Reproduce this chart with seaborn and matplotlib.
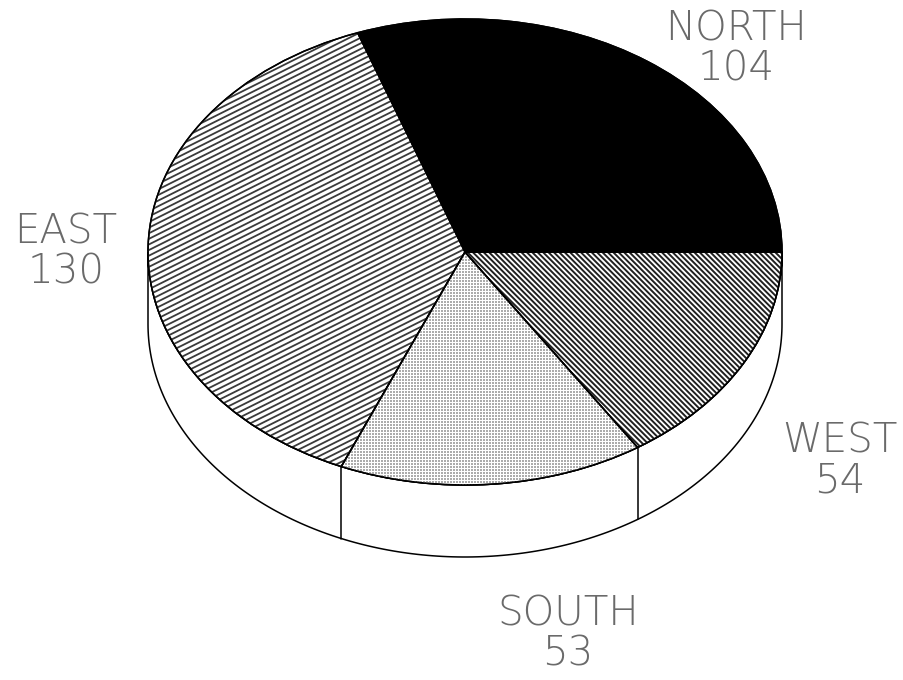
import numpy as np
import matplotlib
matplotlib.use('Agg')
import matplotlib.pyplot as plt
from matplotlib.patches import Wedge
from matplotlib.collections import LineCollection
import seaborn as sns

# data
regions = ['NORTH', 'EAST', 'SOUTH', 'WEST']
sales = [104, 130, 53, 54]

sns.set_style('white')
plt.rcParams['font.family'] = ['DejaVu Sans']

# geometry of the tilted pie, in pixels of the 904x680 picture
W, H = 904, 680
cx, cy = 465, 252      # centre of the top face
rx, ry = 317, 233      # radii of the top ellipse
depth = 72             # thickness of the side

fig = plt.figure(figsize=(W / 100, H / 100), dpi=100)
ax = fig.add_axes([0, 0, 1, 1])

D = depth / ry
# side band (front half of the cylinder)
th = np.linspace(np.pi, 2 * np.pi, 200)
side_x = np.concatenate([np.cos(th), np.cos(th[::-1])])
side_y = np.concatenate([np.sin(th), np.sin(th[::-1]) - D])
ax.fill(side_x, side_y, facecolor='white', edgecolor='black', lw=1.1, zorder=1)

wedges, _ = ax.pie(sales, startangle=0, counterclock=True, radius=1,
                   colors=['black', 'white', 'white', 'white'],
                   wedgeprops=dict(edgecolor='black', linewidth=1.1))
for w in wedges:
    w.set_zorder(2)

# vertical edges on the side where slices meet
bounds = np.cumsum(sales) / sum(sales) * 360
for a in bounds:
    if 180 < a < 360:
        t = np.radians(a)
        ax.plot([np.cos(t), np.cos(t)], [np.sin(t), np.sin(t) - D],
                color='black', lw=1.1, zorder=1.5)


def hatch(wedge, slope_px, step_px, color, lw):
    # parallel lines given by their slope and vertical step in pixels
    m = slope_px * rx / ry
    step = step_px / ry
    cs = np.arange(-4, 4, step)
    segs = [[(-1.2, m * -1.2 + c), (1.2, m * 1.2 + c)] for c in cs]
    lc = LineCollection(segs, colors=color, linewidths=lw, zorder=3)
    ax.add_collection(lc)
    lc.set_clip_path(wedge)


hatch(wedges[1], 0.5, 5.6, '#3a3a3a', 1.3)
hatch(wedges[3], -1.0, 5.4, '#202020', 1.4)

# stipple for SOUTH
gx = np.arange(-1, 1, 3 / rx)
gy = np.arange(-1, 1, 3 / ry)
px, py = np.meshgrid(gx, gy)
dots = ax.scatter(px.ravel(), py.ravel(), s=0.6, marker='s', color='#acacac',
                  linewidths=0, zorder=3)
dots.set_clip_path(wedges[2])

# redraw outlines above the texture
for w in wedges:
    ax.add_patch(Wedge(w.center, w.r, w.theta1, w.theta2, facecolor='none',
                       edgecolor='black', lw=1.1, zorder=4))

ax.set_aspect('auto')
ax.set_xlim(-cx / rx, (W - cx) / rx)
ax.set_ylim((cy - H) / ry, cy / ry)
ax.axis('off')

# labels, centres in pixels
label_pos = {'NORTH': (736, 49), 'EAST': (66, 252), 'WEST': (840, 461), 'SOUTH': (568, 634)}
for name, val in zip(regions, sales):
    lx, ly = label_pos[name]
    ax.text((lx - cx) / rx, (cy - ly) / ry, f'{name}\n{val}', ha='center', va='center',
            fontsize=29, fontweight='light', color='#6a6a6a', linespacing=1.05,
            multialignment='center')

fig.savefig('out.png', dpi=100, facecolor='white')
